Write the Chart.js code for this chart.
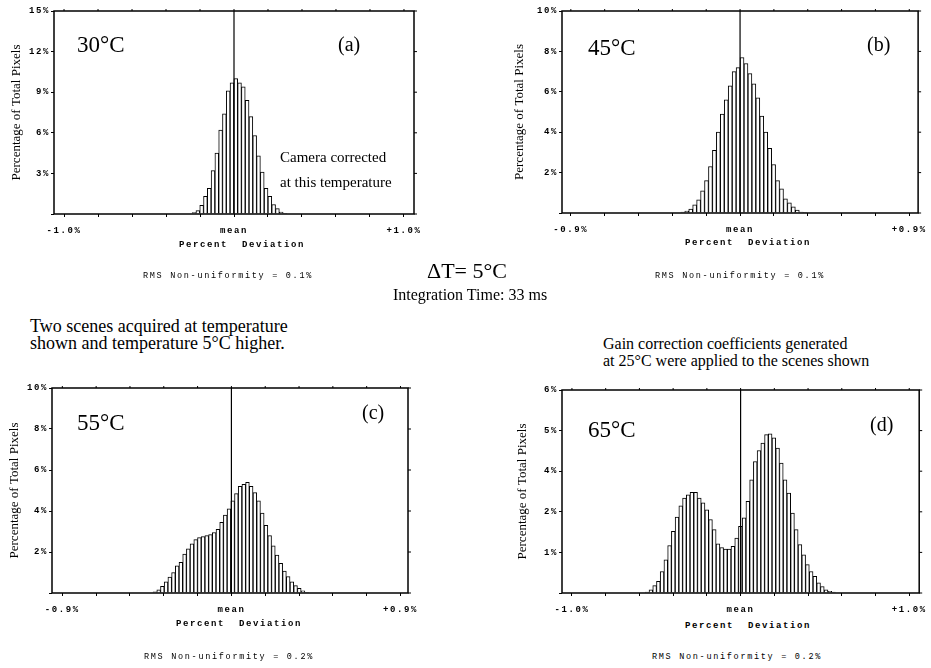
<!DOCTYPE html>
<html>
<head>
<meta charset="utf-8">
<script src="https://cdn.jsdelivr.net/npm/chart.js@4.4.0/dist/chart.umd.min.js"></script>
<style>
  body { margin: 0; background: #fff; width: 931px; height: 668px; position: relative; overflow: hidden;
         font-family: "Liberation Serif", "Times New Roman", serif; color: #000; }
  canvas { position: absolute; }
  .t { position: absolute; white-space: pre; line-height: 1; }
  .c { transform: translateX(-50%); }
  .mono { font-family: "Liberation Mono", monospace; font-size: 9px; letter-spacing: 1.6px; font-weight: bold;
          transform: translate(-50%, -50%); }
  .rms { font-family: "Liberation Mono", monospace; font-size: 8.5px; letter-spacing: 1.7px;
         transform: translate(-50%, -50%); }
</style>
</head>
<body>
<canvas id="ha" width="430" height="240" style="left:0;top:0"></canvas>
<canvas id="hb" width="461" height="240" style="left:470px;top:0"></canvas>
<canvas id="hc" width="430" height="240" style="left:0;top:380px"></canvas>
<canvas id="hd" width="461" height="240" style="left:470px;top:380px"></canvas>

<div class="t" style="left:77px;top:33px;font-size:23px">30°C</div>
<div class="t" style="left:338px;top:34px;font-size:20px">(a)</div>
<div class="t" style="left:280px;top:150px;font-size:15px">Camera corrected</div>
<div class="t" style="left:280px;top:175px;font-size:15px">at this temperature</div>
<div class="t mono" style="left:242px;top:245px">Percent  Deviation</div>
<div class="t rms" style="left:228px;top:276px">RMS Non-uniformity = 0.1%</div>

<div class="t" style="left:588px;top:36px;font-size:23px">45°C</div>
<div class="t" style="left:867px;top:34px;font-size:20px">(b)</div>
<div class="t mono" style="left:748px;top:243px">Percent  Deviation</div>
<div class="t rms" style="left:740px;top:276px">RMS Non-uniformity = 0.1%</div>

<div class="t c" style="left:467px;top:260px;font-size:22px">ΔT= 5°C</div>
<div class="t c" style="left:470px;top:287px;font-size:16px">Integration Time: 33 ms</div>
<div class="t" style="left:30px;top:317px;font-size:18px">Two scenes acquired at temperature</div>
<div class="t" style="left:30px;top:334px;font-size:18px">shown and temperature 5°C higher.</div>
<div class="t" style="left:603px;top:336px;font-size:16px">Gain correction coefficients generated</div>
<div class="t" style="left:603px;top:353px;font-size:16px">at 25°C were applied to the scenes shown</div>

<div class="t" style="left:77px;top:411px;font-size:23px">55°C</div>
<div class="t" style="left:362px;top:402px;font-size:20px">(c)</div>
<div class="t mono" style="left:239px;top:624px">Percent  Deviation</div>
<div class="t rms" style="left:229px;top:657px">RMS Non-uniformity = 0.2%</div>

<div class="t" style="left:588px;top:418px;font-size:23px">65°C</div>
<div class="t" style="left:870px;top:414px;font-size:20px">(d)</div>
<div class="t mono" style="left:748px;top:626px">Percent  Deviation</div>
<div class="t rms" style="left:737px;top:657px">RMS Non-uniformity = 0.2%</div>

<script>
// ── histogram data (percent of total pixels per bin) ─────────────
var aStart = -0.235, aBin = 0.0223;
var aValues = [0.1, 0.25, 0.64, 1.3, 1.9, 3.2, 4.5, 6.2, 7.4, 9.1, 9.7, 10.0,
               9.7, 9.4, 8.4, 7.2, 5.8, 4.3, 3.1, 1.9, 1.3, 0.7, 0.4, 0.15, 0.05];

var bStart = -0.3045, bBin = 0.021;
var bValues = [0.05, 0.1, 0.2, 0.4, 0.65, 1.1, 1.6, 2.3, 3.1, 4.0, 4.9, 5.6, 6.3, 7.0, 7.2, 7.7,
               7.4, 6.9, 6.4, 5.7, 4.8, 4.0, 3.2, 2.4, 1.6, 1.2, 0.7, 0.5, 0.3, 0.15, 0.05, 0.02];

var cStart = -0.407, cBin = 0.0197;
var cValues = [0.06, 0.16, 0.33, 0.55, 0.78, 1.0, 1.33, 1.5, 1.9, 2.15, 2.4, 2.6, 2.7, 2.75,
               2.8, 2.85, 2.95, 3.1, 3.45, 3.8, 4.1, 4.5, 4.85, 5.2, 5.3, 5.4, 5.2, 4.9, 4.5,
               3.9, 3.3, 2.8, 2.3, 1.85, 1.45, 1.07, 0.8, 0.55, 0.36, 0.23, 0.11, 0.03];

var dStart = -0.554, dBin = 0.0221;
var dValues = [0.025, 0.08, 0.18, 0.29, 0.53, 0.82, 1.17, 1.52, 1.87, 2.15, 2.34, 2.42, 2.48,
               2.48, 2.34, 2.22, 2.05, 1.81, 1.56, 1.21, 1.12, 1.08, 1.08, 1.15, 1.35, 1.64,
               1.85, 2.26, 2.79, 3.24, 3.51, 3.69, 3.90, 3.92, 3.82, 3.57, 3.20, 2.79, 2.46,
               1.97, 1.56, 1.19, 0.94, 0.70, 0.53, 0.41, 0.25, 0.16, 0.08, 0.04, 0.02];

// ── tick labels ──────────────────────────────────────────────────
var xTicks10  = [-1.0, -0.8, -0.6, -0.4, -0.2, 0, 0.2, 0.4, 0.6, 0.8, 1.0];
var xLabels10 = ['-1.0%', '', '', '', '', 'mean', '', '', '', '', '+1.0%'];
var xTicks09  = [-0.9, -0.72, -0.54, -0.36, -0.18, 0, 0.18, 0.36, 0.54, 0.72, 0.9];
var xLabels09 = ['-0.9%', '', '', '', '', 'mean', '', '', '', '', '+0.9%'];

var aYLabels = ['', '3%', '6%', '9%', '12%', '15%'];
var bYLabels = ['', '2%', '4%', '6%', '8%', '10%'];
var cYLabels = ['', '2%', '4%', '6%', '8%', '10%'];
var dYLabels = ['', '1%', '2%', '4%', '5%', '6%'];

var tickFont = { family: 'Liberation Mono', size: 9, weight: 'bold' };

// plot frame, mean line, right-hand tick marks
var framePlugin = {
  id: 'frame',
  beforeDraw: function (c) { c.ctx.letterSpacing = '0px'; },
  afterDatasetsDraw: function (c) {
    var a = c.chartArea, ctx = c.ctx, x0 = c.scales.x.getPixelForValue(0);
    ctx.save();
    ctx.strokeStyle = '#000';
    ctx.lineWidth = 1.2;
    ctx.beginPath();
    ctx.moveTo(x0, a.top); ctx.lineTo(x0, a.bottom);
    ctx.stroke();
    ctx.lineWidth = 1.5;
    ctx.strokeRect(a.left, a.top, a.right - a.left, a.bottom - a.top);
    ctx.lineWidth = 1;
    ctx.beginPath();
    c.scales.y.ticks.forEach(function (t) {
      var y = c.scales.y.getPixelForValue(t.value);
      ctx.moveTo(a.right, y); ctx.lineTo(a.right + 3, y);
    });
    c.scales.x.ticks.forEach(function (t) {
      var x = c.scales.x.getPixelForValue(t.value);
      ctx.moveTo(x, a.top); ctx.lineTo(x, a.top - 2);
    });
    ctx.stroke();
    ctx.restore();
    ctx.letterSpacing = '1.6px';
  }
};

function makeHist(id, o) {
  var pts = o.values.map(function (v, i) { return { x: o.start + i * o.bin, y: v }; });
  return new Chart(document.getElementById(id), {
    type: 'bar',
    data: { datasets: [{
      data: pts, backgroundColor: '#fff', borderColor: '#000', borderWidth: 1,
      barPercentage: 1, categoryPercentage: 1
    }] },
    options: {
      responsive: false, animation: false, events: [],
      layout: { padding: { top: o.padTop, right: o.padRight, left: 0, bottom: 0 } },
      plugins: { legend: { display: false }, tooltip: { enabled: false } },
      scales: {
        x: {
          type: 'linear', min: o.xMin, max: o.xMax, offset: false,
          afterBuildTicks: function (s) { s.ticks = o.xTicks.map(function (v) { return { value: v }; }); },
          afterFit: function (s) { s.height = o.xH; },
          grid: { drawOnChartArea: false, tickLength: 3, color: '#000', offset: false },
          border: { display: false },
          ticks: { autoSkip: false, maxRotation: 0, padding: 8, z: 1, color: '#000', font: tickFont,
                   callback: function (v, i) { return o.xLabels[i]; } }
        },
        y: {
          min: 0, max: o.yMax,
          ticks: { stepSize: o.yStep, padding: 1, z: 1, color: '#000', font: tickFont,
                   callback: function (v, i) { return o.yLabels[i]; } },
          afterFit: function (s) { s.width = o.yW; },
          grid: { drawOnChartArea: false, tickLength: 3, color: '#000' },
          border: { display: false },
          title: { display: true, text: 'Percentage of Total Pixels', color: '#000',
                   font: { family: 'Liberation Serif', size: 13 }, padding: { top: o.titlePad, bottom: 0 } }
        }
      }
    },
    plugins: [framePlugin]
  });
}

makeHist('ha', { values: aValues, start: aStart, bin: aBin, xMin: -1.059, xMax: 1.059,
  xTicks: xTicks10, xLabels: xLabels10, yMax: 15, yStep: 3, yLabels: aYLabels,
  padTop: 11, padRight: 16, yW: 54, xH: 26, titlePad: 9.2 });
makeHist('hb', { values: bValues, start: bStart, bin: bBin, xMin: -0.947, xMax: 0.947,
  xTicks: xTicks09, xLabels: xLabels09, yMax: 10, yStep: 2, yLabels: bYLabels,
  padTop: 11, padRight: 9, yW: 92, xH: 27, titlePad: 42.2 });
makeHist('hc', { values: cValues, start: cStart, bin: cBin, xMin: -0.955, xMax: 0.94,
  xTicks: xTicks09, xLabels: xLabels09, yMax: 10, yStep: 2, yLabels: cYLabels,
  padTop: 8, padRight: 22, yW: 52, xH: 27, titlePad: 7.2 });
makeHist('hd', { values: dValues, start: dStart, bin: dBin, xMin: -1.059, xMax: 1.059,
  xTicks: xTicks10, xLabels: xLabels10, yMax: 5, yStep: 1, yLabels: dYLabels,
  padTop: 10, padRight: 9, yW: 92, xH: 27, titlePad: 45.2 });
</script>
</body>
</html>
